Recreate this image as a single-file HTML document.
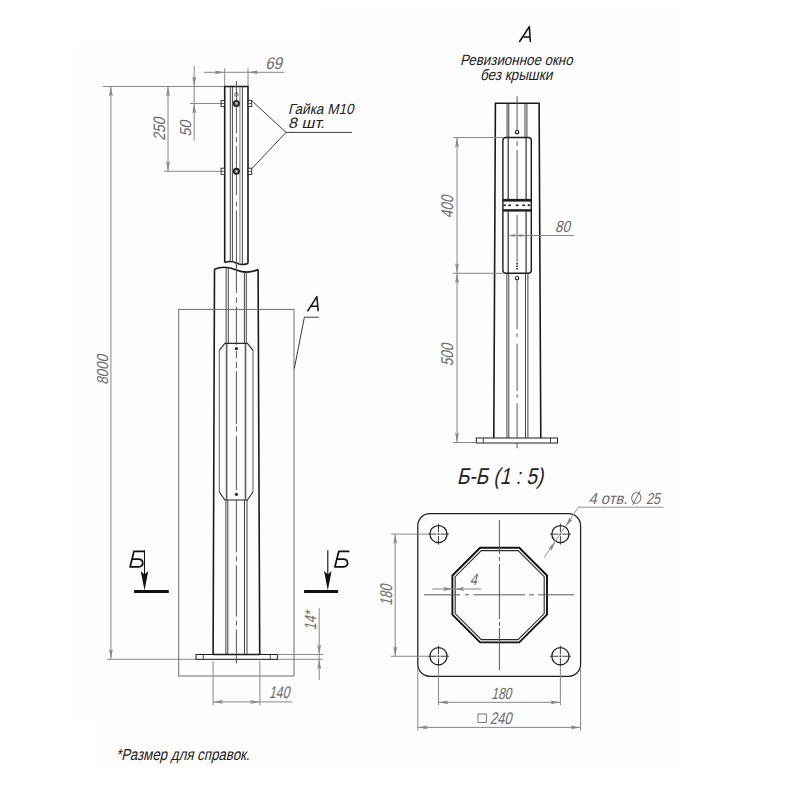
<!DOCTYPE html>
<html><head><meta charset="utf-8"><style>
html,body{margin:0;padding:0;background:#fff;}
svg{display:block;}
text{font-family:"Liberation Sans",sans-serif;font-style:normal;}
.dt{fill:#6a6a6a;}
.lb{fill:#1e1e1e;}
.lbT{fill:#1e1e1e;}

.k{stroke:#1a1a1a;stroke-width:1.6;fill:none;}
.t{stroke:#3a3a3a;stroke-width:0.95;}
.tb{stroke:#5e5e5e;stroke-width:1.6;}
.t2{stroke:#2a2a2a;stroke-width:1.2;}
.tg{stroke:#a8a8a8;stroke-width:1.5;}
.d{stroke:#888888;stroke-width:1;}
.cl{stroke:#5a5a5a;stroke-width:1;fill:none;}

</style></head><body>
<svg width="800" height="800" viewBox="0 0 800 800">
<rect width="800" height="800" fill="#fff"/>
<path d="M75,45 H316 V13.5 H680 V767 H97 V720 H75 Z" fill="#fdfdfd"/>
<line x1="110.9" y1="86.5" x2="110.9" y2="659" class="d"/>
<polygon points="110.90,86.50 112.80,96.50 110.90,94.70 109.00,96.50" fill="#888888"/>
<polygon points="110.90,659.00 109.00,649.00 110.90,650.80 112.80,649.00" fill="#888888"/>
<line x1="103" y1="86.5" x2="224.7" y2="86.5" class="d"/>
<line x1="107" y1="659.3" x2="322.6" y2="659.3" class="d"/>
<line x1="168" y1="86.5" x2="168" y2="171.3" class="d"/>
<polygon points="168.00,86.50 169.90,96.50 168.00,94.70 166.10,96.50" fill="#888888"/>
<polygon points="168.00,171.30 166.10,161.30 168.00,163.10 169.90,161.30" fill="#888888"/>
<line x1="164" y1="171.3" x2="221" y2="171.3" class="d"/>
<line x1="194.2" y1="66" x2="194.2" y2="140.6" class="d"/>
<polygon points="194.20,86.50 192.30,76.50 194.20,78.30 196.10,76.50" fill="#888888"/>
<polygon points="194.20,103.50 196.10,113.50 194.20,111.70 192.30,113.50" fill="#888888"/>
<line x1="190" y1="103.5" x2="221" y2="103.5" class="d"/>
<line x1="204" y1="72.3" x2="284.5" y2="72.3" class="d"/>
<polygon points="224.70,72.30 214.70,74.20 216.50,72.30 214.70,70.40" fill="#888888"/>
<polygon points="248.00,72.30 258.00,70.40 256.20,72.30 258.00,74.20" fill="#888888"/>
<line x1="224.7" y1="68.4" x2="224.7" y2="86.5" class="d"/>
<line x1="248" y1="68.4" x2="248" y2="86.5" class="d"/>
<path d="M224.7,262.6 L224.7,86.5 L248,86.5 L248,263.6" class="k"/>
<path d="M224.7,262.6 C228.5,260.9 232.5,261.2 236.4,263 C240.3,264.7 244.5,264.8 248,263.6" class="k"/>
<line x1="230.3" y1="87" x2="230.3" y2="261.6" class="t"/>
<line x1="232.4" y1="87" x2="232.4" y2="261.9" class="t"/>
<line x1="242.4" y1="87" x2="242.4" y2="264.4" class="t"/>
<line x1="239.9" y1="87" x2="239.9" y2="264.2" class="tg"/>
<path d="M236.4,81V133.2 M236.4,137.2V142.2 M236.4,146.2V195 M236.4,201.5V206.5 M236.4,210.5V270" class="cl"/>
<circle cx="236.4" cy="103.5" r="2.7" fill="#8a8a8a" stroke="#1e1e1e" stroke-width="1.6"/>
<circle cx="236.4" cy="103.5" r="0.7" fill="#ddd"/>
<rect x="221.1" y="100.4" width="3.5" height="6.2" fill="#fff" stroke="#222" stroke-width="0.9"/>
<line x1="221.1" y1="103.5" x2="224.6" y2="103.5" stroke="#222" stroke-width="0.7"/>
<rect x="248.2" y="100.4" width="3.5" height="6.2" fill="#fff" stroke="#222" stroke-width="0.9"/>
<line x1="248.2" y1="103.5" x2="251.7" y2="103.5" stroke="#222" stroke-width="0.7"/>
<circle cx="236.4" cy="171.3" r="2.7" fill="#8a8a8a" stroke="#1e1e1e" stroke-width="1.6"/>
<circle cx="236.4" cy="171.3" r="0.7" fill="#ddd"/>
<rect x="221.1" y="168.20000000000002" width="3.5" height="6.2" fill="#fff" stroke="#222" stroke-width="0.9"/>
<line x1="221.1" y1="171.3" x2="224.6" y2="171.3" stroke="#222" stroke-width="0.7"/>
<rect x="248.2" y="168.20000000000002" width="3.5" height="6.2" fill="#fff" stroke="#222" stroke-width="0.9"/>
<line x1="248.2" y1="171.3" x2="251.7" y2="171.3" stroke="#222" stroke-width="0.7"/>
<circle cx="236.4" cy="94.4" r="1.8" fill="none" stroke="#444" stroke-width="0.8"/>
<path d="M251.8,100.8 L286,132.4 L251.8,168.6 M286,132.4 L352,132.4" fill="none" stroke="#2a2a2a" stroke-width="0.9"/>
<path d="M214.5,269.3 C220.5,266.6 228.5,266.5 236.4,270 C243.5,273 251,272.8 258.1,269.6" class="k"/>
<path d="M214.5,269.3 L213.1,654.5 M258.1,269.6 L259.7,654.5" class="k"/>
<line x1="226.1" y1="267.5" x2="226.1" y2="343.4" class="t"/>
<line x1="228.3" y1="267.4" x2="228.3" y2="343.4" class="t"/>
<line x1="244.4" y1="272.2" x2="244.4" y2="343.4" class="t"/>
<line x1="246.3" y1="272.3" x2="246.3" y2="343.4" class="t"/>
<line x1="226.6" y1="343.4" x2="226.6" y2="500" class="tb"/>
<line x1="245.5" y1="343.4" x2="245.5" y2="500" class="tb"/>
<line x1="225.9" y1="500" x2="225.9" y2="654.5" class="t"/>
<line x1="227.8" y1="500" x2="227.8" y2="654.5" class="t"/>
<line x1="244.5" y1="500" x2="244.5" y2="654.5" class="t"/>
<line x1="247.0" y1="500" x2="247.0" y2="654.5" class="t"/>
<path d="M236.4,262V293 M236.4,297.5V303 M236.4,306.5V345 M236.4,351V358 M236.4,362V368 M236.4,371.25V424 M236.4,426.2V431.8 M236.4,435.75V490 M236.4,500V552.4 M236.4,556.3V561.4 M236.4,565.3V616.6 M236.4,620.5V625.6 M236.4,629.5V663.2" class="cl"/>
<path d="M219.3,350.3 L224.9,343.4 L247.4,343.4 L253,350.3 M253,492 L247.4,500 L224.9,500 L219.3,492" fill="none" stroke="#2a2a2a" stroke-width="1.1"/>
<path d="M219.3,350.3 V492 M253,350.3 V492" fill="none" stroke="#6a6a6a" stroke-width="1.1"/>
<circle cx="236.4" cy="348.7" r="1.6" fill="#2a2a2a"/>
<circle cx="236.4" cy="494.3" r="1.6" fill="#2a2a2a"/>
<rect x="178.7" y="309.4" width="115.3" height="366.6" fill="none" stroke="#6e6e6e" stroke-width="1"/>
<path d="M294.3,368.6 L304.4,317.2 L318.8,317.2" fill="none" stroke="#3a3a3a" stroke-width="1"/>
<path d="M307.5,311.3 L316.9,296.6 L318.2,311.3 M311.4,306.3 L317.8,306.3" fill="none" stroke="#111" stroke-width="1.5" stroke-linejoin="round"/>
<rect x="196" y="654.5" width="81.4" height="4.8" fill="#fff" stroke="#1e1e1e" stroke-width="1"/>
<line x1="203.3" y1="654.5" x2="203.3" y2="659.3" class="t"/>
<line x1="270.3" y1="654.5" x2="270.3" y2="659.3" class="t"/>
<path d="M213.1,654.5 L259.7,654.5" class="k"/>
<line x1="236.4" y1="654.5" x2="236.4" y2="663.2" class="cl"/>
<line x1="134.1" y1="591.5" x2="168.75" y2="591.5" stroke="#111" stroke-width="3"/>
<line x1="144.5" y1="550.3" x2="144.5" y2="580" stroke="#111" stroke-width="1.1"/>
<polygon points="144.5,590.5 140.75,571 144.5,574.6 148.25,571" fill="#111"/>
<path d="M144.6,551.3 L134.0,551.3 L130.1,566.9 L138.6,566.9 C141.8,566.9 143.0,564.6999999999999 142.7,562.5 C142.4,560.3 140.8,559.1999999999999 138.6,559.1999999999999 L132.1,559.1999999999999" fill="none" stroke="#111" stroke-width="1.75" stroke-linejoin="round"/>
<line x1="304.1" y1="591.5" x2="338.1" y2="591.5" stroke="#111" stroke-width="3"/>
<line x1="327.8" y1="550.3" x2="327.8" y2="580" stroke="#111" stroke-width="1.1"/>
<polygon points="327.8,590.5 324.05,571 327.8,574.6 331.55,571" fill="#111"/>
<path d="M349.40000000000003,551.3 L338.8,551.3 L334.90000000000003,566.9 L343.40000000000003,566.9 C346.6,566.9 347.8,564.6999999999999 347.5,562.5 C347.2,560.3 345.6,559.1999999999999 343.40000000000003,559.1999999999999 L336.90000000000003,559.1999999999999" fill="none" stroke="#111" stroke-width="1.75" stroke-linejoin="round"/>
<line x1="319.2" y1="608.2" x2="319.2" y2="680" class="d"/>
<polygon points="319.20,654.50 317.30,644.50 319.20,646.30 321.10,644.50" fill="#888888"/>
<polygon points="319.20,659.30 321.10,669.30 319.20,667.50 317.30,669.30" fill="#888888"/>
<line x1="277.4" y1="654.5" x2="323" y2="654.5" class="d"/>
<line x1="213.1" y1="661" x2="213.1" y2="705.2" class="d"/>
<line x1="259.9" y1="661" x2="259.9" y2="705.2" class="d"/>
<line x1="213.1" y1="701.9" x2="292.3" y2="701.9" class="d"/>
<polygon points="213.10,701.90 223.10,700.00 221.30,701.90 223.10,703.80" fill="#888888"/>
<polygon points="259.90,701.90 249.90,703.80 251.70,701.90 249.90,700.00" fill="#888888"/>
<path d="M519.3,42 L529.3,26.6 L530.4,42 M523.6,37 L530,37" fill="none" stroke="#111" stroke-width="1.55" stroke-linejoin="round"/>
<path d="M493.8,438 L495.4,103.2 L539.1,103.2 L540.8,438" class="k"/>
<line x1="507.1" y1="103.5" x2="507.1" y2="137.5" class="t"/>
<line x1="508.8" y1="103.5" x2="508.8" y2="137.5" class="t"/>
<line x1="525.0" y1="103.5" x2="525.0" y2="137.5" class="t"/>
<line x1="526.9" y1="103.5" x2="526.9" y2="137.5" class="t"/>
<path d="M517.1,96.2V130 M517.1,141V145.7 M517.1,149.8V199 M517.1,215V262.4 M517.1,280.6V329 M517.1,333.5V337 M517.1,343.7V391 M517.1,394.4V397.7 M517.1,403.4V448.4" class="cl"/>
<line x1="517.1" y1="263" x2="517.1" y2="270" stroke="#222" stroke-width="1.6" stroke-dasharray="1.6 0.9"/>
<circle cx="517.1" cy="132.2" r="1.7" fill="#fff" stroke="#1e1e1e" stroke-width="1.2"/>
<circle cx="517.1" cy="278.2" r="1.7" fill="#fff" stroke="#2a2a2a" stroke-width="1.1"/>
<rect x="502.9" y="137.5" width="28.4" height="135.8" rx="3" fill="none" stroke="#1c1c1c" stroke-width="1.4"/>
<line x1="508.2" y1="138" x2="508.2" y2="199" class="t2"/>
<line x1="508.2" y1="211.5" x2="508.2" y2="273" class="t2"/>
<line x1="526.1" y1="138" x2="526.1" y2="199" class="t2"/>
<line x1="526.1" y1="211.5" x2="526.1" y2="273" class="t2"/>
<line x1="506.9" y1="274" x2="506.9" y2="438" class="t"/>
<line x1="508.8" y1="274" x2="508.8" y2="438" class="t"/>
<line x1="525.5" y1="274" x2="525.5" y2="438" class="t"/>
<line x1="527.9" y1="274" x2="527.9" y2="438" class="t"/>
<rect x="502.9" y="198.9" width="28.4" height="2.7" fill="#1e1e1e"/>
<rect x="502.9" y="209.2" width="28.4" height="2.4" fill="#1e1e1e"/>
<ellipse cx="504.6" cy="205.3" rx="1.5" ry="1" fill="#2a2a2a"/>
<ellipse cx="509.6" cy="205.3" rx="1.5" ry="1" fill="#2a2a2a"/>
<ellipse cx="517.2" cy="205.3" rx="1.5" ry="1" fill="#2a2a2a"/>
<ellipse cx="523.7" cy="205.3" rx="1.5" ry="1" fill="#2a2a2a"/>
<ellipse cx="529.0" cy="205.3" rx="1.5" ry="1" fill="#2a2a2a"/>
<rect x="476.3" y="438" width="81.2" height="5" fill="#fff" stroke="#1e1e1e" stroke-width="1"/>
<line x1="483.3" y1="438" x2="483.3" y2="443" class="t"/>
<line x1="550.5" y1="438" x2="550.5" y2="443" class="t"/>
<line x1="457" y1="137.5" x2="457" y2="442.5" class="d"/>
<line x1="453" y1="137.5" x2="502.9" y2="137.5" class="d"/>
<line x1="453" y1="273.3" x2="502.9" y2="273.3" class="d"/>
<polygon points="457.00,137.50 458.90,147.50 457.00,145.70 455.10,147.50" fill="#888888"/>
<polygon points="457.00,273.30 455.10,263.30 457.00,265.10 458.90,263.30" fill="#888888"/>
<polygon points="457.00,273.30 458.90,283.30 457.00,281.50 455.10,283.30" fill="#888888"/>
<polygon points="457.00,442.50 455.10,432.50 457.00,434.30 458.90,432.50" fill="#888888"/>
<line x1="453" y1="442.5" x2="476.3" y2="442.5" class="d"/>
<line x1="508.2" y1="235.5" x2="574" y2="235.5" class="d"/>
<polygon points="508.20,235.50 515.20,233.90 513.94,235.50 515.20,237.10" fill="#888888"/>
<polygon points="526.10,235.50 519.10,237.10 520.36,235.50 519.10,233.90" fill="#888888"/>
<rect x="417.8" y="513.7" width="162.8" height="162.6" rx="12" fill="none" stroke="#1e1e1e" stroke-width="1.25"/>
<circle cx="438.5" cy="534.1" r="8.6" fill="none" stroke="#1e1e1e" stroke-width="1.25"/>
<path d="M428.0,534.1H436.5M437.5,534.1H439.5M440.5,534.1H449.0M438.5,523.6V532.1M438.5,533.1V535.1M438.5,536.1V544.6" stroke="#2a2a2a" stroke-width="0.9" fill="none"/>
<circle cx="560.4" cy="534.1" r="8.6" fill="none" stroke="#1e1e1e" stroke-width="1.25"/>
<path d="M549.9,534.1H558.4M559.4,534.1H561.4M562.4,534.1H570.9M560.4,523.6V532.1M560.4,533.1V535.1M560.4,536.1V544.6" stroke="#2a2a2a" stroke-width="0.9" fill="none"/>
<circle cx="438.5" cy="656.25" r="8.6" fill="none" stroke="#1e1e1e" stroke-width="1.25"/>
<path d="M428.0,656.25H436.5M437.5,656.25H439.5M440.5,656.25H449.0M438.5,645.75V654.25M438.5,655.25V657.25M438.5,658.25V666.75" stroke="#2a2a2a" stroke-width="0.9" fill="none"/>
<circle cx="560.4" cy="656.25" r="8.6" fill="none" stroke="#1e1e1e" stroke-width="1.25"/>
<path d="M549.9,656.25H558.4M559.4,656.25H561.4M562.4,656.25H570.9M560.4,645.75V654.25M560.4,655.25V657.25M560.4,658.25V666.75" stroke="#2a2a2a" stroke-width="0.9" fill="none"/>
<polygon points="480.11,547.80 519.29,547.80 547.00,575.51 547.00,614.69 519.29,642.40 480.11,642.40 452.40,614.69 452.40,575.51" fill="none" stroke="#111" stroke-width="1.9"/>
<polygon points="481.27,550.60 518.13,550.60 544.20,576.67 544.20,613.53 518.13,639.60 481.27,639.60 455.20,613.53 455.20,576.67" fill="none" stroke="#2a2a2a" stroke-width="1.1"/>
<path d="M424,594.8H460 M465,594.8H469 M473.6,594.8H525 M529,594.8H534 M538,594.8H574" class="cl"/>
<path d="M499.4,520V554 M499.4,557V561 M499.4,564V619 M499.4,622V626 M499.4,628V670" class="cl"/>
<line x1="432.3" y1="589" x2="481.5" y2="589" class="d"/>
<polygon points="452.20,589.00 443.20,590.90 444.82,589.00 443.20,587.10" fill="#888888"/>
<polygon points="455.10,589.00 464.10,587.10 462.48,589.00 464.10,590.90" fill="#888888"/>
<path d="M663.5,507.2 L578.4,507.2 L544,557.8" fill="none" stroke="#888888" stroke-width="0.9"/>
<polygon points="565.60,526.60 569.66,517.26 570.21,519.82 572.80,519.40" fill="#888888"/>
<polygon points="555.40,541.60 551.34,550.94 550.79,548.38 548.20,548.80" fill="#888888"/>
<line x1="395.2" y1="534.1" x2="395.2" y2="656.25" class="d"/>
<line x1="391" y1="534.1" x2="428" y2="534.1" class="d"/>
<line x1="391" y1="656.25" x2="428" y2="656.25" class="d"/>
<polygon points="395.20,534.10 397.10,544.10 395.20,542.30 393.30,544.10" fill="#888888"/>
<polygon points="395.20,656.25 393.30,646.25 395.20,648.05 397.10,646.25" fill="#888888"/>
<line x1="438.5" y1="666" x2="438.5" y2="705" class="d"/>
<line x1="560.4" y1="666" x2="560.4" y2="705" class="d"/>
<line x1="438.5" y1="702.3" x2="560.4" y2="702.3" class="d"/>
<polygon points="438.50,702.30 448.50,700.40 446.70,702.30 448.50,704.20" fill="#888888"/>
<polygon points="560.40,702.30 550.40,704.20 552.20,702.30 550.40,700.40" fill="#888888"/>
<line x1="417.8" y1="668" x2="417.8" y2="730.5" class="d"/>
<line x1="580.6" y1="668" x2="580.6" y2="730.5" class="d"/>
<line x1="417.8" y1="727.4" x2="580.6" y2="727.4" class="d"/>
<polygon points="417.80,727.40 427.80,725.50 426.00,727.40 427.80,729.30" fill="#888888"/>
<polygon points="580.60,727.40 570.60,729.30 572.40,727.40 570.60,725.50" fill="#888888"/>
<rect x="478" y="714" width="8.3" height="8.5" fill="none" stroke="#6a6a6a" stroke-width="0.9"/>
<ellipse cx="636.3" cy="498" rx="4.6" ry="5.4" transform="rotate(12 636.3 498)" fill="none" stroke="#6a6a6a" stroke-width="0.95"/>
<line x1="640.2" y1="490.8" x2="632.6" y2="504.8" stroke="#6a6a6a" stroke-width="0.95"/>
<text class="dt" style="font-size:17.00px" transform="translate(265.25,68.50) skewX(-13)" textLength="16.70" lengthAdjust="spacingAndGlyphs">69</text>
<text class="lb" style="font-size:14.67px" transform="translate(288.00,113.75) skewX(-13)" textLength="65.45" lengthAdjust="spacingAndGlyphs">Гайка М10</text>
<text class="lb" style="font-size:15.02px" transform="translate(288.00,128.20) skewX(-13)" textLength="36.52" lengthAdjust="spacingAndGlyphs">8 шт.</text>
<text class="dt" style="font-size:16.90px" transform="translate(268.70,698.00) skewX(-13)" textLength="20.54" lengthAdjust="spacingAndGlyphs">140</text>
<text class="dt" style="font-size:16.19px" transform="translate(555.00,231.75) skewX(-13)" textLength="14.92" lengthAdjust="spacingAndGlyphs">80</text>
<text class="dt" style="font-size:16.29px" transform="translate(491.25,698.75) skewX(-13)" textLength="19.89" lengthAdjust="spacingAndGlyphs">180</text>
<text class="dt" style="font-size:16.72px" transform="translate(489.70,723.90) skewX(-13)" textLength="21.72" lengthAdjust="spacingAndGlyphs">240</text>
<text class="dt" style="font-size:16.38px" transform="translate(469.80,584.70) skewX(-13)" textLength="7.31" lengthAdjust="spacingAndGlyphs">4</text>
<text class="dt" style="font-size:15.86px" transform="translate(588.50,503.50) skewX(-13)" textLength="38.94" lengthAdjust="spacingAndGlyphs">4 отв.</text>
<text class="dt" style="font-size:15.86px" transform="translate(646.00,503.50) skewX(-13)" textLength="13.86" lengthAdjust="spacingAndGlyphs">25</text>
<text class="lbT" style="font-size:22.78px" transform="translate(456.70,484.00) skewX(-13)" textLength="86.46" lengthAdjust="spacingAndGlyphs">Б-Б (1 : 5)</text>
<text class="lb" style="font-size:14.96px" transform="translate(460.00,64.95) skewX(-13)" textLength="112.66" lengthAdjust="spacingAndGlyphs">Ревизионное окно</text>
<text class="lb" style="font-size:15.46px" transform="translate(479.90,80.20) skewX(-13)" textLength="72.32" lengthAdjust="spacingAndGlyphs">без крышки</text>
<text class="lb" style="font-size:16.08px" transform="translate(116.10,759.50) skewX(-13)" textLength="133.47" lengthAdjust="spacingAndGlyphs">*Размер для справок.</text>
<text class="dt" style="font-size:15.90px" transform="translate(107.80,384.85) rotate(-90) skewX(-13)" textLength="29.87" lengthAdjust="spacingAndGlyphs">8000</text>
<text class="dt" style="font-size:16.60px" transform="translate(164.60,140.70) rotate(-90) skewX(-13)" textLength="22.93" lengthAdjust="spacingAndGlyphs">250</text>
<text class="dt" style="font-size:15.90px" transform="translate(191.30,136.60) rotate(-90) skewX(-13)" textLength="15.93" lengthAdjust="spacingAndGlyphs">50</text>
<text class="dt" style="font-size:16.32px" transform="translate(315.80,630.20) rotate(-90) skewX(-13)" textLength="18.89" lengthAdjust="spacingAndGlyphs">14*</text>
<text class="dt" style="font-size:17.00px" transform="translate(453.25,218.25) rotate(-90) skewX(-13)" textLength="22.61" lengthAdjust="spacingAndGlyphs">400</text>
<text class="dt" style="font-size:17.00px" transform="translate(453.25,366.00) rotate(-90) skewX(-13)" textLength="22.04" lengthAdjust="spacingAndGlyphs">500</text>
<text class="dt" style="font-size:17.03px" transform="translate(392.30,605.80) rotate(-90) skewX(-13)" textLength="20.90" lengthAdjust="spacingAndGlyphs">180</text>
</svg>
</body></html>
